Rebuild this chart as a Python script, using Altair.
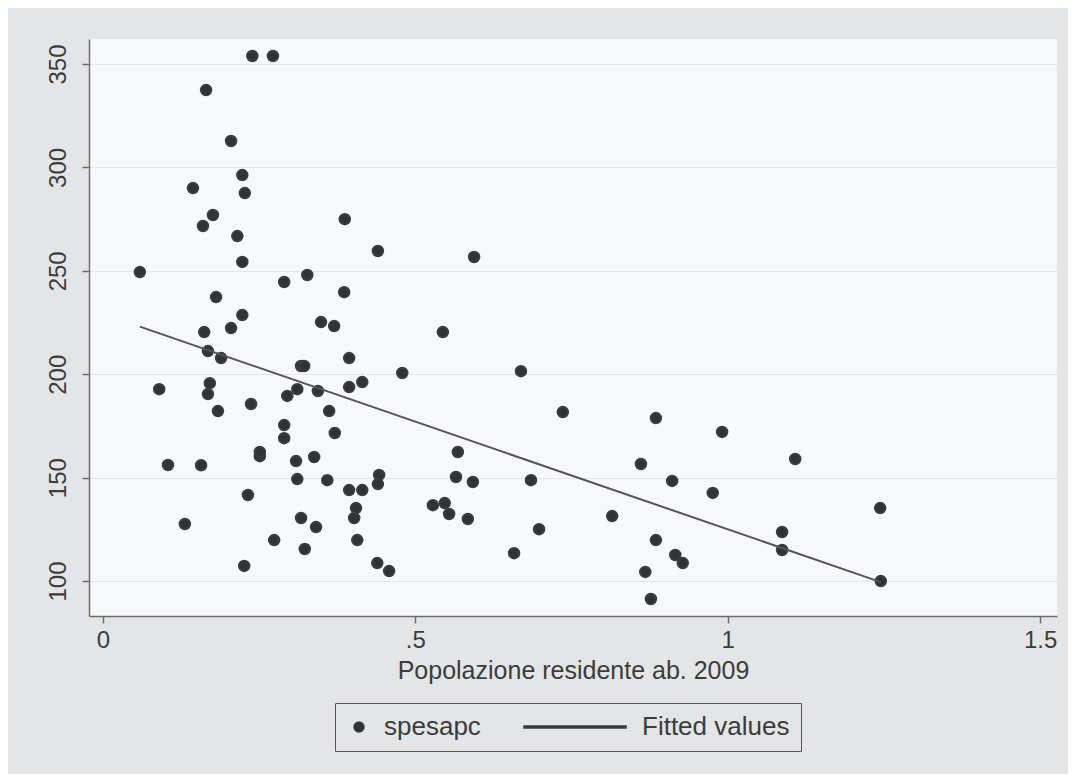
import altair as alt
import pandas as pd

# ---- data ----
pop = [0.059, 0.090, 0.104, 0.131, 0.144, 0.157, 0.160, 0.165, 0.176, 0.162,
       0.168, 0.171, 0.168, 0.181, 0.184, 0.189, 0.205, 0.205, 0.215, 0.223,
       0.227, 0.223, 0.223, 0.226, 0.232, 0.237, 0.239, 0.251, 0.251, 0.272,
       0.274, 0.290, 0.290, 0.290, 0.295, 0.309, 0.311, 0.311, 0.317, 0.322,
       0.317, 0.323, 0.327, 0.338, 0.341, 0.344, 0.349, 0.359, 0.362, 0.370,
       0.371, 0.386, 0.387, 0.394, 0.394, 0.394, 0.402, 0.405, 0.407, 0.415,
       0.415, 0.440, 0.442, 0.440, 0.439, 0.458, 0.479, 0.528, 0.544, 0.547,
       0.554, 0.565, 0.568, 0.584, 0.592, 0.594, 0.658, 0.669, 0.685, 0.698,
       0.736, 0.815, 0.861, 0.868, 0.877, 0.885, 0.885, 0.911, 0.916, 0.928,
       0.976, 0.991, 1.087, 1.087, 1.108, 1.244, 1.245]
spesapc = [249.4, 192.8, 156.1, 127.6, 290.0, 156.0, 271.7, 337.4, 277.0, 220.4,
           211.2, 195.7, 190.4, 237.3, 182.2, 207.8, 312.8, 222.3, 266.8, 296.3,
           287.6, 254.3, 228.6, 107.3, 141.6, 185.6, 353.9, 160.4, 162.4, 353.9,
           119.8, 244.6, 175.4, 169.1, 189.5, 158.0, 149.3, 192.8, 204.0, 204.0,
           130.5, 115.5, 248.0, 160.0, 126.1, 191.9, 225.2, 148.8, 182.2, 223.3,
           171.6, 239.7, 275.0, 207.8, 193.8, 144.0, 130.5, 135.3, 119.8, 196.2,
           144.0, 259.6, 151.3, 146.9, 108.7, 104.8, 200.6, 136.7, 220.4, 137.7,
           132.4, 150.3, 162.4, 130.0, 147.9, 256.7, 113.5, 201.5, 148.8, 125.1,
           181.7, 131.4, 156.6, 104.4, 91.3, 178.8, 119.8, 148.4, 112.6, 108.7,
           142.6, 172.1, 123.7, 115.0, 159.0, 135.3, 100.0]
fit_x = [0.059, 1.245]
fit_y = [223.0, 99.5]
series = ["spesapc", "Fitted values"]
x_ticks = [0, 0.5, 1, 1.5]
x_tick_labels = ["0", ".5", "1", "1.5"]
y_ticks = [100, 150, 200, 250, 300, 350]
x_title = "Popolazione residente ab. 2009"

pts = pd.DataFrame({"pop": pop, "spesa": spesapc, "serie": series[0]})
fit = pd.DataFrame({"pop": fit_x, "spesa": fit_y, "serie": series[1]})

label_expr = " : ".join(
    f"datum.value == {v} ? '{l}'" for v, l in zip(x_ticks, x_tick_labels)
) + " : datum.label"

FONT = "Liberation Sans"
TXT = "#3c3c3c"
AX = "#6e6e6e"
BG = "#e4e5e7"

# symbol shapes (unit space, scaled by sqrt(size)/2)
circle_path = "M-0.5,0a0.5,0.5 0 1,0 1,0a0.5,0.5 0 1,0 -1,0Z"
line_path = "M-9.3,-0.09H0.9V0.09H-9.3Z"

x_enc = alt.X(
    "pop:Q",
    scale=alt.Scale(domain=[-0.0224, 1.527], nice=False, zero=False),
    axis=alt.Axis(values=x_ticks, labelExpr=label_expr, title=x_title,
                  grid=False, tickSize=7, labelPadding=5, titlePadding=6),
)
y_enc = alt.Y(
    "spesa:Q",
    scale=alt.Scale(domain=[83.1, 362.1], nice=False, zero=False),
    axis=alt.Axis(values=y_ticks, labelAngle=-90, labelAlign="center",
                  labelBaseline="bottom", title=None, grid=True,
                  gridColor="#e3e6ec", gridWidth=1, tickSize=7, labelPadding=12),
)

points = alt.Chart(pts).mark_point(
    filled=True, color="#2f3337", stroke="#3a3d40", strokeWidth=2, opacity=1, size=441
).encode(
    x=x_enc,
    y=y_enc,
    shape=alt.Shape(
        "serie:N",
        scale=alt.Scale(domain=series, range=[circle_path, line_path]),
        legend=alt.Legend(
            title=None, orient="none", direction="horizontal", columns=2,
            legendX=246, legendY=664, padding=11, columnPadding=40,
            strokeColor="#555555", fillColor=BG, cornerRadius=0,
            symbolSize=400, symbolFillColor="#3a3d40",
            labelFont=FONT, labelFontSize=26,
            labelColor=TXT, labelOffset=12, symbolOpacity=1,
        ),
    ),
)

line = alt.Chart(fit).mark_line(color="#555555", strokeWidth=2).encode(
    x="pop:Q", y="spesa:Q"
)

chart = alt.layer(points, line).properties(
    width=968, height=577,
    autosize=alt.AutoSizeParams(type="none"),
    padding={"left": 81, "top": 31, "right": 11, "bottom": 158},
).configure(
    background=BG,
).configure_view(
    fill="#f7f8fb", stroke=None,
).configure_axis(
    domainColor=AX, domainWidth=1.5, tickColor=AX, tickWidth=1.5,
    labelFont=FONT, labelFontSize=24, labelColor=TXT,
    titleFont=FONT, titleFontSize=25, titleColor=TXT, titleFontWeight="normal",
)

chart.save("out.html", embed_options={"renderer": "svg", "actions": False})
